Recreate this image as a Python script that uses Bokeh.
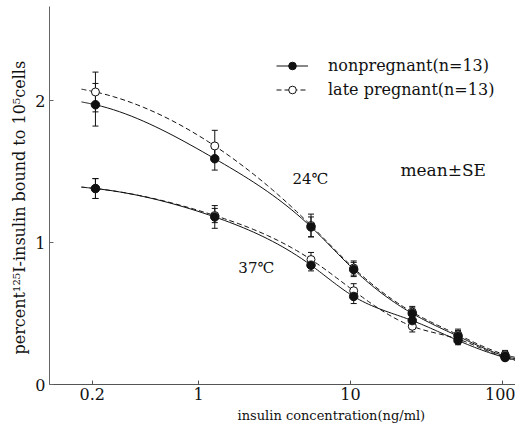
import numpy as np
from bokeh.plotting import figure
from bokeh.models import (ColumnDataSource, Whisker, TeeHead, Label, Legend,
                          LegendItem, FixedTicker, Range1d, Title)
from bokeh.embed import file_html
from bokeh.resources import INLINE

# ---------------- data ----------------
conc = [0.21, 1.28, 5.5, 10.5, 25.5, 51, 104]

np24 = [1.97, 1.59, 1.11, 0.81, 0.50, 0.34, 0.20]
np24_se = [0.15, 0.08, 0.07, 0.05, 0.04, 0.04, 0.03]
lp24 = [2.06, 1.68, 1.12, 0.82, 0.51, 0.35, 0.21]
lp24_se = [0.14, 0.11, 0.08, 0.05, 0.04, 0.04, 0.03]

np37 = [1.38, 1.18, 0.84, 0.62, 0.45, 0.31, 0.19]
np37_se = [0.07, 0.08, 0.04, 0.05, 0.04, 0.03, 0.02]
lp37 = [1.38, 1.19, 0.88, 0.66, 0.41, 0.32, 0.19]
lp37_se = [0.07, 0.05, 0.05, 0.05, 0.04, 0.03, 0.02]

# ends of the fitted curves beyond the measured points
curve_ends_x = [0.17, 150]
np24_ends = [1.99, 0.16]
lp24_ends = [2.08, 0.17]
np37_ends = [1.39, 0.15]
lp37_ends = [1.39, 0.15]

x_ticks = [0.2, 1, 10, 100]
x_tick_labels = ["0.2", "1", "10", "100"]
y_ticks = [0, 1, 2]

x_title = "insulin concentration(ng/ml)"
y_title = "percent\u00b9\u00b2\u2075I-insulin bound to 10\u2075cells"

FONT = "'DejaVu Serif', 'Liberation Serif', serif"
INK = "#111111"


def smooth(xs, ys, n=20):
    """Natural cubic spline through the given points, in log-x space."""
    u = np.log10(np.asarray(xs, float))
    v = np.asarray(ys, float)
    k = len(u)
    h = np.diff(u)
    A = np.zeros((k, k))
    r = np.zeros(k)
    A[0, 0] = A[-1, -1] = 1.0
    for i in range(1, k - 1):
        A[i, i - 1] = h[i - 1]
        A[i, i] = 2 * (h[i - 1] + h[i])
        A[i, i + 1] = h[i]
        r[i] = 6 * ((v[i + 1] - v[i]) / h[i] - (v[i] - v[i - 1]) / h[i - 1])
    M = np.linalg.solve(A, r)
    uu, vv = [], []
    for i in range(k - 1):
        t = np.linspace(u[i], u[i + 1], n, endpoint=(i == k - 2))
        a = (u[i + 1] - t) / h[i]
        b = (t - u[i]) / h[i]
        s = (a * v[i] + b * v[i + 1]
             + ((a ** 3 - a) * M[i] + (b ** 3 - b) * M[i + 1]) * h[i] ** 2 / 6)
        uu.append(t)
        vv.append(s)
    return 10 ** np.concatenate(uu), np.concatenate(vv)


def curve(vals, ends):
    xs = [curve_ends_x[0]] + conc + [curve_ends_x[1]]
    ys = [ends[0]] + vals + [ends[1]]
    return smooth(xs, ys)


p = figure(width=515, height=429, x_axis_type="log",
           x_range=Range1d(0.1047, 121.8), y_range=Range1d(0, 2.662),
           output_backend="svg", toolbar_location=None,
           min_border_left=49, min_border_right=0, min_border_top=6,
           min_border_bottom=45)
p.outline_line_color = None
p.grid.visible = False
p.background_fill_color = "white"

# curves
cx, cy = curve(np24, np24_ends)
l_np = p.line(cx, cy, line_color=INK, line_width=1)
cx, cy = curve(lp24, lp24_ends)
l_lp = p.line(cx, cy, line_color=INK, line_width=1, line_dash="5 3")
cx, cy = curve(np37, np37_ends)
p.line(cx, cy, line_color=INK, line_width=1)
cx, cy = curve(lp37, lp37_ends)
p.line(cx, cy, line_color=INK, line_width=1, line_dash="5 3")

# error bars
for vals, se in [(np24, np24_se), (lp24, lp24_se), (np37, np37_se), (lp37, lp37_se)]:
    src = ColumnDataSource(dict(x=conc,
                                lo=[v - s for v, s in zip(vals, se)],
                                hi=[v + s for v, s in zip(vals, se)]))
    w = Whisker(source=src, base="x", lower="lo", upper="hi", dimension="height",
                line_color=INK, line_width=1,
                upper_head=TeeHead(size=6, line_color=INK, line_width=1),
                lower_head=TeeHead(size=6, line_color=INK, line_width=1))
    p.add_layout(w)

# markers
s_lp = p.scatter(conc, lp24, size=8, marker="circle", fill_color="white",
                 line_color=INK, line_width=1)
p.scatter(conc, lp37, size=8, marker="circle", fill_color="white",
          line_color=INK, line_width=1)
s_np = p.scatter(conc, np24, size=8.5, marker="circle", fill_color=INK, line_color=INK)
p.scatter(conc, np37, size=8.5, marker="circle", fill_color=INK, line_color=INK)

# axes
xa = p.xaxis[0]
xa.ticker = FixedTicker(ticks=x_ticks, minor_ticks=[])
xa.major_label_overrides = {t: l for t, l in zip(x_ticks, x_tick_labels)}
xa.major_label_text_font = FONT
xa.major_label_text_font_size = "16px"
xa.major_label_text_color = INK
xa.major_label_standoff = 3
xa.major_tick_in = 4
xa.major_tick_out = 0
xa.axis_line_color = "#555555"
xa.major_tick_line_color = "#555555"

ya = p.yaxis[0]
ya.ticker = FixedTicker(ticks=y_ticks, minor_ticks=[])
ya.major_label_text_font = FONT
ya.major_label_text_font_size = "16px"
ya.major_label_text_color = INK
ya.major_label_standoff = 4
ya.major_tick_in = 4
ya.major_tick_out = 0
ya.axis_line_color = "#666666"
ya.major_tick_line_color = "#666666"

# axis titles, placed off-centre like the original
p.add_layout(Title(text=x_title, align="left", offset=188, standoff=7,
                   text_font=FONT, text_font_size="13px", text_font_style="normal",
                   text_color=INK), "below")
p.add_layout(Title(text=y_title, align="left", offset=30, standoff=8,
                   text_font=FONT, text_font_size="16px", text_font_style="normal",
                   text_color=INK), "left")

# legend
legend = Legend(items=[LegendItem(label="nonpregnant(n=13)", renderers=[l_np, s_np]),
                       LegendItem(label="late pregnant(n=13)", renderers=[l_lp, s_lp])],
                location=(227, 285), orientation="vertical",
                glyph_width=32, glyph_height=19, label_height=19, spacing=5,
                label_standoff=20, padding=0, margin=0,
                background_fill_alpha=0, border_line_color=None,
                label_text_font=FONT, label_text_font_size="16px",
                label_text_color=INK)
p.add_layout(legend)

# annotations
for txt, x, y, size in [("24\u2103", 4.15, 1.45, "15px"),
                        ("37\u2103", 1.83, 0.82, "15px"),
                        ("mean\u00b1SE", 21.3, 1.51, "17px")]:
    p.add_layout(Label(x=x, y=y, text=txt, text_font=FONT, text_font_size=size,
                       text_color=INK, text_baseline="middle", text_align="left"))

open("out.html", "w").write(file_html(p, INLINE))
